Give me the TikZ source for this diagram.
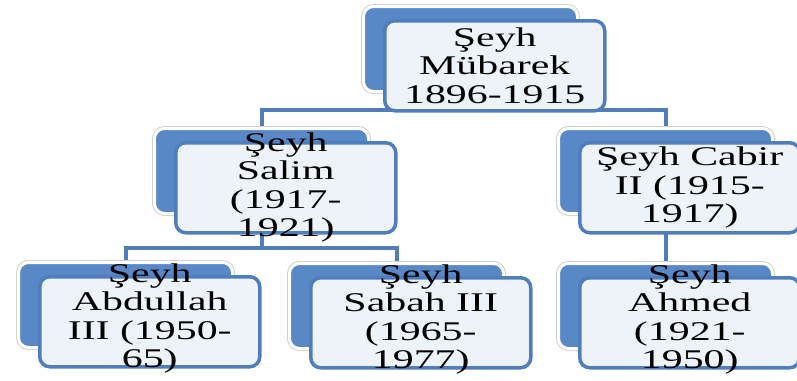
\documentclass[tikz,border=0pt]{standalone}
\usepackage{fontspec}
\setmainfont{Liberation Serif}[FakeStretch=1.55]
\usetikzlibrary{backgrounds}
\definecolor{smblue}{RGB}{88,136,198}
\definecolor{smline}{RGB}{80,126,188}
\definecolor{smfill}{RGB}{238,242,249}
\tikzset{
  back/.style={draw=white, line width=3pt, fill=smblue, rounded corners=10pt,
    minimum width=214pt, minimum height=85pt, inner sep=0pt, anchor=north west,
    preaction={draw=black!18, line width=5pt}},
  front/.style={draw=smline, line width=3.5pt, fill=smfill, rounded corners=10pt,
    minimum width=220pt, minimum height=90pt, inner sep=0pt, anchor=north west},
  txt/.style={align=center, inner sep=0pt, font=\fontsize{27}{28.5}\selectfont},
  conn/.style={draw=smline, line width=4pt}
}

\begin{document}
\begin{tikzpicture}[x=1pt, y=-1pt]
\useasboundingbox (0,0) rectangle (797,380);
\foreach \n/\x/\y in {mubarek/362/5, salim/153/127, cabir/557/127,
  abdullah/17/261, sabah/288/262, ahmed/557/262}{
  \node[back] (\n) at (\x,\y) {};
  \node[front] (\n f) at (\x+21,\y+14) {};
}
\node[txt] (mubarekt) at (mubarekf) {Şeyh\\Mübarek\\1896-1915};
\node[txt] (salimt) at (salimf) {Şeyh\\Salim\\(1917-\\1921)};
\node[txt] (cabirt) at (cabirf) {Şeyh Cabir\\II (1915-\\1917)};
\node[txt] (abdullaht) at ([yshift=3pt]abdullahf.center) {Şeyh\\Abdullah\\III (1950-\\65)};
\node[txt] (sabaht) at ([yshift=3pt]sabahf.center) {Şeyh\\Sabah III\\(1965-\\1977)};
\node[txt] (ahmedt) at ([yshift=3pt]ahmedf.center) {Şeyh\\Ahmed\\(1921-\\1950)};
\begin{scope}[on background layer]
\draw[conn] (mubarek.south) -- ++(0,17) -| (salim.north);
\draw[conn] (mubarek.south) -- ++(0,17) -| (cabir.north);
\draw[conn] (salim.south) -- ++(0,33) -| (abdullah.north);
\draw[conn] (salim.south) -- ++(0,33) -| (sabah.north);
\draw[conn] (cabir.south) -- (ahmed.north);
\end{scope}
\end{tikzpicture}
\end{document}
